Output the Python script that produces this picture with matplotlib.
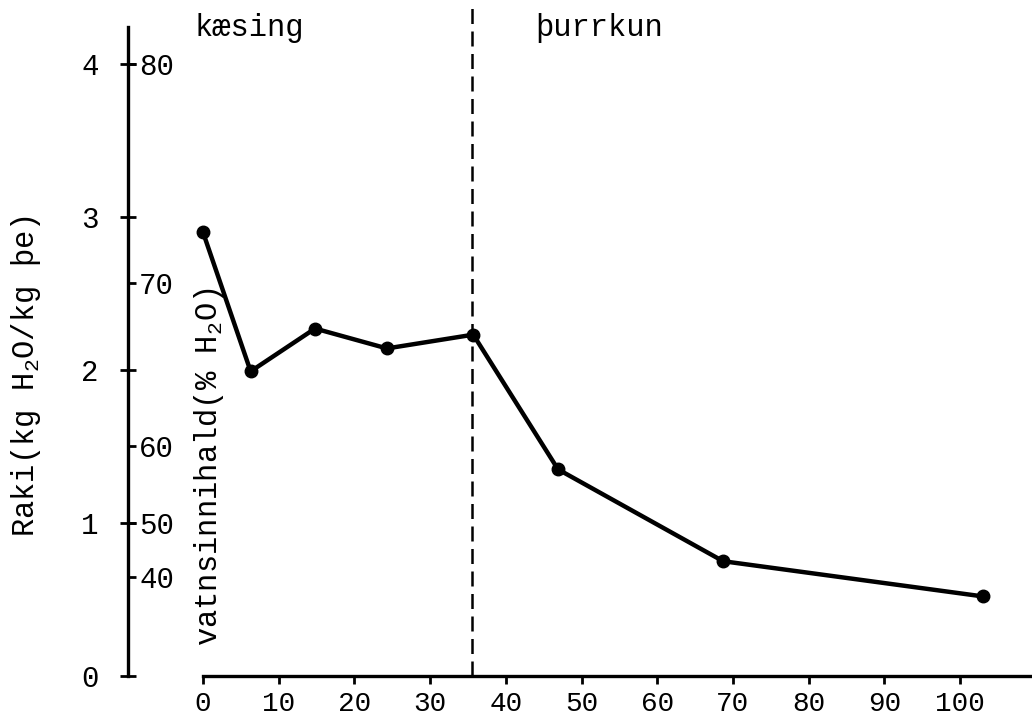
import matplotlib
matplotlib.use("Agg")
import matplotlib.pyplot as plt

plt.rcParams['font.family'] = ['Liberation Mono', 'DejaVu Sans Mono']
plt.rcParams['mathtext.default'] = 'regular'

# time (days) and moisture (kg H2O / kg dry matter)
days = [0, 6.3, 14.8, 24.3, 35.7, 46.9, 68.7, 103.0]
moisture = [2.90, 1.99, 2.27, 2.14, 2.23, 1.35, 0.75, 0.52]

x_ticks = [0, 10, 20, 30, 40, 50, 60, 70, 80, 90, 100]
y_ticks = [0, 1, 2, 3, 4]
# water content scale (% H2O) drawn on the same axis
pct_labels = ['80', '70', '60', '50', '40']
pct_pos = [4.0, 2.57, 1.50, 1.0, 0.65]

phase_split = 35.5
phase_names = ['kæsing', 'þurrkun']

fig = plt.figure(figsize=(10.32, 7.22), dpi=100)
ax = fig.add_axes([128 / 1032, 46 / 722, 904 / 1032, 649 / 722])

ax.plot(days, moisture, color='black', lw=3.2, marker='o', ms=9,
        solid_joinstyle='round', zorder=3)
ax.axvline(phase_split, ymin=0, ymax=1.034, color='black', lw=1.8,
           dashes=(6, 3), clip_on=False)

ax.set_xlim(-9.9, 109.5)
ax.set_ylim(0, 4.24)

for s in ['top', 'right']:
    ax.spines[s].set_visible(False)
ax.spines['left'].set_linewidth(2.4)
ax.spines['bottom'].set_linewidth(2.4)
ax.spines['bottom'].set_bounds(0, 109.5)

ax.set_xticks(x_ticks)
ax.set_xticklabels([str(t) for t in x_ticks])
ax.set_yticks(y_ticks)
ax.set_yticklabels([str(t) for t in y_ticks])
ax.tick_params(axis='x', direction='out', length=6, width=2, pad=5,
               labelsize=20)
ax.tick_params(axis='y', direction='inout', length=12, width=2, pad=15,
               labelsize=21)

ax2 = ax.twinx()
ax2.set_ylim(ax.get_ylim())
ax2.spines['right'].set_position(('axes', 0))
for s in ['top', 'right', 'left', 'bottom']:
    ax2.spines[s].set_visible(False)
ax2.set_yticks(pct_pos)
ax2.set_yticklabels(pct_labels)
ax2.tick_params(axis='y', direction='out', length=6, width=2, pad=2,
                labelsize=21)

ax.text(-1.1, 4.18, phase_names[0], fontsize=22, ha='left', va='baseline')
ax.text(43.9, 4.18, phase_names[1], fontsize=22, ha='left', va='baseline')

fig.text(26 / 1032, 1 - 376 / 722, 'Raki(kg H$_2$O/kg þe)', rotation=90,
         fontsize=22, ha='center', va='center')
fig.text(209 / 1032, 1 - 467 / 722, 'vatnsinnihald(% H$_2$O)', rotation=90,
         fontsize=22, ha='center', va='center')

fig.savefig('out.png', dpi=100)
